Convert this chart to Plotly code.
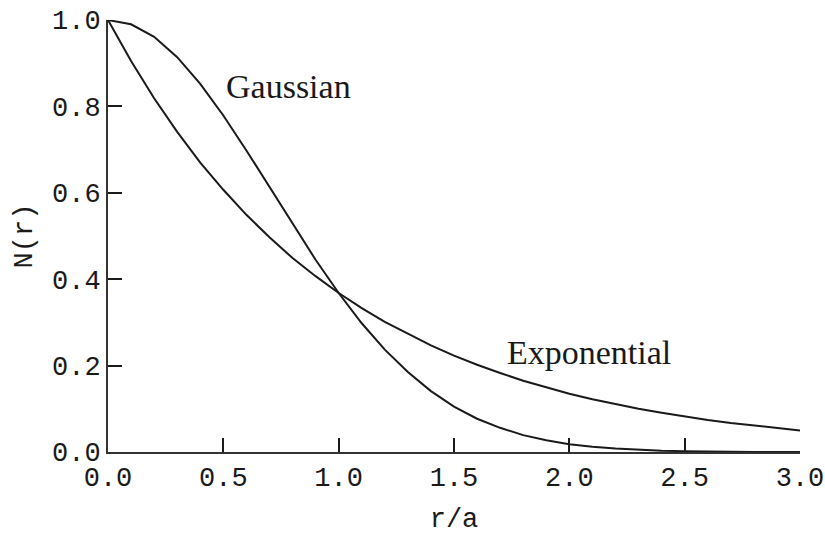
import plotly.graph_objects as go

r_values = [0.0, 0.1, 0.2, 0.3, 0.4, 0.5, 0.6, 0.7, 0.8, 0.9, 1.0,
            1.1, 1.2, 1.3, 1.4, 1.5, 1.6, 1.7, 1.8, 1.9, 2.0,
            2.1, 2.2, 2.3, 2.4, 2.5, 2.6, 2.7, 2.8, 2.9, 3.0]
gaussian = [1.000, 0.990, 0.961, 0.914, 0.852, 0.779, 0.698, 0.613, 0.527, 0.445, 0.368,
            0.298, 0.237, 0.185, 0.141, 0.105, 0.077, 0.056, 0.039, 0.027, 0.018,
            0.012, 0.008, 0.005, 0.003, 0.002, 0.001, 0.001, 0.000, 0.000, 0.000]
exponential = [1.000, 0.905, 0.819, 0.741, 0.670, 0.607, 0.549, 0.497, 0.449, 0.407, 0.368,
               0.333, 0.301, 0.273, 0.247, 0.223, 0.202, 0.183, 0.165, 0.150, 0.135,
               0.122, 0.111, 0.100, 0.091, 0.082, 0.074, 0.067, 0.061, 0.055, 0.050]
x_ticks = [0.0, 0.5, 1.0, 1.5, 2.0, 2.5, 3.0]
y_ticks = [0.0, 0.2, 0.4, 0.6, 0.8, 1.0]
labels = ["Gaussian", "Exponential"]
label_x = [0.505, 1.722]
label_y = [0.845, 0.231]

line_color = "#1a1a1a"
fig = go.Figure()
fig.add_trace(go.Scatter(x=r_values, y=gaussian, mode="lines",
                         line=dict(color=line_color, width=2), showlegend=False, cliponaxis=False))
fig.add_trace(go.Scatter(x=r_values, y=exponential, mode="lines",
                         line=dict(color=line_color, width=2), showlegend=False, cliponaxis=False))

for t, x, y in zip(labels, label_x, label_y):
    fig.add_annotation(x=x, y=y, text=t, showarrow=False, xanchor="left", yanchor="middle",
                       font=dict(family="Liberation Serif", size=34, color=line_color))

tick_font = dict(family="Liberation Mono", size=27, color=line_color)
axis_common = dict(showline=True, linecolor="#333333", linewidth=2,
                   ticks="inside", ticklen=14, tickwidth=2, tickcolor=line_color,
                   showgrid=False, zeroline=False, tickfont=tick_font, automargin=False,
                   ticklabeloverflow="allow")
fig.update_layout(
    width=825, height=535,
    margin=dict(l=108, r=25, t=20, b=83),
    paper_bgcolor="white", plot_bgcolor="white",
    xaxis=dict(range=[0, 3], tickmode="array", tickvals=x_ticks,
               ticktext=[f"{v:.1f}" for v in x_ticks],
               title=dict(text="r/a", font=tick_font, standoff=16), **axis_common),
    yaxis=dict(range=[0, 1], tickmode="array", tickvals=y_ticks,
               ticktext=[f"{v:.1f}" for v in y_ticks],
               title=dict(text="N(r)", font=tick_font, standoff=12), **axis_common),
)
fig.write_html("out.html", config={"displayModeBar": False},
               post_script="document.body.style.margin='0';document.body.style.overflow='hidden';")
